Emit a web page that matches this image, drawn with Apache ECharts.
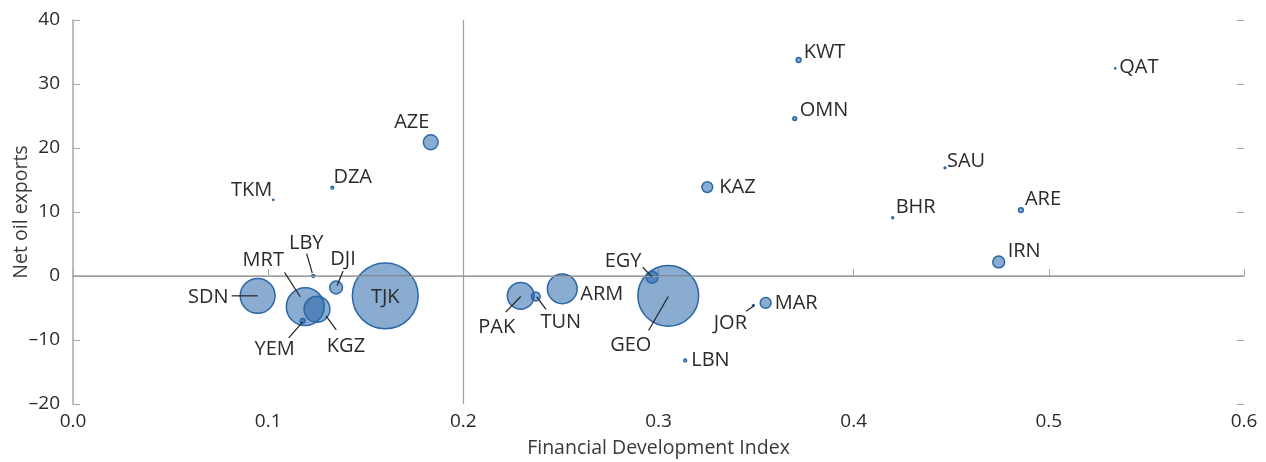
<!DOCTYPE html>
<html>
<head>
<meta charset="utf-8">
<script src="https://cdn.jsdelivr.net/npm/echarts@6/dist/echarts.min.js"></script>
<style>html,body{margin:0;padding:0;background:#fff}#c{width:1266px;height:462px}</style>
</head>
<body>
<div id="c"></div>
<script>
// ---- data ----
var countries = ['TJK','GEO','MRT','SDN','ARM','PAK','KGZ','AZE','DJI','EGY','IRN','MAR','KAZ','TUN','YEM','KWT','ARE','OMN','LBY','DZA','LBN','JOR','BHR','SAU','TKM','QAT'];
var finDev    = [0.160,0.305,0.119,0.0946,0.2507,0.2294,0.125,0.1833,0.1348,0.2967,0.4743,0.3549,0.325,0.2371,0.1177,0.3718,0.4857,0.3698,0.1231,0.1329,0.3137,0.3486,0.420,0.4468,0.1026,0.534];
var netOil    = [-3.1,-3.1,-4.8,-3.1,-2.0,-3.1,-5.2,20.9,-1.8,-0.2,2.2,-4.2,13.9,-3.2,-7.0,33.75,10.3,24.6,0.0,13.8,-13.2,-4.6,9.1,16.9,11.9,32.45];
var weight    = [44.9,38.4,15.2,13.0,9.6,7.8,7.3,2.56,1.96,1.7,1.7,1.44,1.44,1.0,0.36,0.36,0.36,0.25,0.16,0.16,0.16,0.09,0.09,0.09,0.04,0.04];
var xTicks = [0,0.1,0.2,0.3,0.4,0.5,0.6];
var yTicks = [-20,-10,0,10,20,30,40];

// ---- label placement (pixel offsets from the point, style only) ----
var labelCfg = {
  SDN:{dx:-29,dy:1,align:'right',line:[-26,0,0,0]},
  MRT:{dx:-42,dy:-46,align:'center',line:[-20.7,-34.4,-5,-10]},
  LBY:{dx:-7,dy:-33,align:'center',line:[-6.6,-22.3,-1,-3]},
  DJI:{dx:7,dy:-28,align:'center',line:[7,-16.6,1,-2]},
  TJK:{dx:0,dy:1,align:'center'},
  YEM:{dx:-28,dy:28,align:'center',line:[-14,17,0,1]},
  KGZ:{dx:29,dy:37,align:'center',line:[19.3,20.7,9,6.7]},
  PAK:{dx:-24,dy:31,align:'center',line:[-15,16.3,0,0.7]},
  TUN:{dx:25,dy:26,align:'center',line:[10.3,13,1,0.4]},
  ARM:{dx:18,dy:5,align:'left'},
  EGY:{dx:-29,dy:-16,align:'center',line:[-9.3,-10,-0.3,-0.6]},
  GEO:{dx:-37.5,dy:49,align:'center',line:[-19.7,34.7,0,0.7]},
  JOR:{dx:-23,dy:18,align:'center',line:[-7.3,5.7,1,0]},
  MAR:{dx:9,dy:0,align:'left'},
  LBN:{dx:6,dy:0,align:'left'},
  TKM:{dx:-1,dy:-10,align:'right'},
  DZA:{dx:1,dy:-10,align:'left'},
  AZE:{dx:-19,dy:-20,align:'center'},
  KWT:{dx:5,dy:-8,align:'left'},
  OMN:{dx:5,dy:-8,align:'left'},
  KAZ:{dx:12,dy:0,align:'left'},
  BHR:{dx:3,dy:-10,align:'left'},
  SAU:{dx:2,dy:-7,align:'left'},
  ARE:{dx:4,dy:-11,align:'left'},
  IRN:{dx:9,dy:-11,align:'left'},
  QAT:{dx:4,dy:-1,align:'left'}
};

var FONT = 'Open Sans';
var TXT = '#2b2b2b';
var AX = '#a6a6a6';

var pts = countries.map(function(c,i){ return [finDev[i], netOil[i], weight[i], c]; });

var chart = echarts.init(document.getElementById('c'), null, {renderer:'canvas'});
chart.setOption({
  animation:false,
  backgroundColor:'#fff',
  grid:{left:73,right:22,top:20,bottom:58,containLabel:false,outerBoundsMode:'none'},
  xAxis:{
    type:'value',min:xTicks[0],max:xTicks[xTicks.length-1],interval:0.1,
    name:'Financial Development Index',nameLocation:'middle',nameGap:34,nameMoveOverlap:false,
    nameTextStyle:{fontFamily:FONT,fontSize:19.5,color:'#3a3a3a'},
    axisLine:{show:true,lineStyle:{color:AX,width:1.5}},
    axisTick:{show:true,inside:true,length:7,lineStyle:{color:AX,width:1}},
    axisLabel:{margin:8,fontFamily:FONT,fontSize:19,color:TXT,formatter:function(v){return v.toFixed(1);}},
    splitLine:{show:false}
  },
  yAxis:[{
    type:'value',min:yTicks[0],max:yTicks[yTicks.length-1],interval:10,
    name:'Net oil exports',nameLocation:'middle',nameGap:42,nameMoveOverlap:false,
    nameTextStyle:{fontFamily:FONT,fontSize:19.5,color:'#3a3a3a'},
    axisLine:{show:true,lineStyle:{color:AX,width:1.5}},
    axisTick:{show:true,inside:true,length:7,lineStyle:{color:AX,width:1}},
    axisLabel:{margin:13,fontFamily:FONT,fontSize:19,color:TXT,formatter:function(v){return v<0?'\u2013'+Math.abs(v):String(v);}},
    splitLine:{show:false}
  },{
    type:'value',position:'right',min:yTicks[0],max:yTicks[yTicks.length-1],interval:10,
    axisLine:{show:false},
    axisTick:{show:true,inside:true,length:7,lineStyle:{color:AX,width:1}},
    axisLabel:{show:false},splitLine:{show:false}
  }],
  series:[{
    type:'scatter',
    data:pts,
    symbolSize:function(v){ return Math.max(1.2, 10*Math.sqrt(v[2]) - 1.2); },
    itemStyle:{color:'rgba(31,95,165,0.52)',borderColor:'#2a67a8',borderWidth:1.5,opacity:1},
    emphasis:{disabled:true},
    z:3,
    markLine:{
      silent:true,symbol:'none',animation:false,
      label:{show:false},
      lineStyle:{color:'#9c9c9c',width:1.2,type:'solid'},
      data:[{xAxis:0.2},{yAxis:0}]
    }
  },{
    type:'custom',
    data:pts,
    clip:false,
    z:5,
    silent:true,
    encode:{x:0,y:1},
    renderItem:function(params, api){
      var idx = params.dataIndex;
      var name = countries[idx];
      var p = api.coord([api.value(0), api.value(1)]);
      var cfg = labelCfg[name];
      var children = [];
      if (cfg.line){
        children.push({type:'line',shape:{x1:p[0]+cfg.line[0],y1:p[1]+cfg.line[1],x2:p[0]+cfg.line[2],y2:p[1]+cfg.line[3]},
          style:{stroke:'#222',lineWidth:1.2}});
      }
      children.push({type:'text',x:p[0]+cfg.dx,y:p[1]+cfg.dy,
        style:{text:name,fill:TXT,font:'20px "'+FONT+'"',align:cfg.align,verticalAlign:'middle'}});
      return {type:'group',children:children};
    }
  }]
});
</script>
</body>
</html>
